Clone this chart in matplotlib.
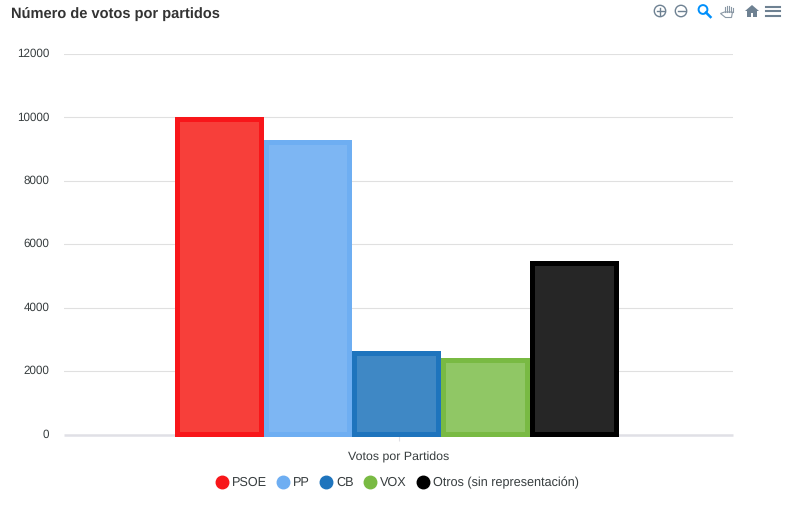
import matplotlib.pyplot as plt
from matplotlib.lines import Line2D
from matplotlib.patches import Circle, Polygon, Rectangle

plt.rcParams['font.family'] = ['Liberation Sans', 'DejaVu Sans']
plt.rcParams['text.hinting'] = 'no_hinting'

partidos = ["PSOE", "PP", "CB", "VOX", "Otros (sin representación)"]
votos = [10000, 9280, 2630, 2400, 5470]
bordes = ["#f8161a", "#6eaef2", "#1e74bd", "#79ba43", "#000000"]
rellenos = ["#f73f3a", "#7db6f3", "#3f88c5", "#90c765", "#262626"]
y_ticks = [0, 2000, 4000, 6000, 8000, 10000, 12000]

W, H = 800, 509
fig = plt.figure(figsize=(W / 100, H / 100), dpi=100)
ax = fig.add_axes([64 / W, (H - 434.5) / H, 669 / W, 380.5 / H])

# one category, five bars side by side, group sits a bit left of the tick
ancho = 88.8 / 669
centro = 0.5 - 1.7 / 669
for i in range(len(votos)):
    x = centro + (i - 2) * ancho
    # the 2px below zero is how the border hangs over the axis
    barra = ax.bar(x, votos[i] + 70, ancho, bottom=-70, color=rellenos[i],
                   edgecolor=bordes[i], linewidth=7.2, zorder=3)[0]
    barra.set_clip_path(barra)

ax.set_xlim(0, 1)
ax.set_ylim(0, 12000)
ax.set_yticks(y_ticks)
ax.set_xticks([0.5])
ax.set_xticklabels([""])
ax.grid(axis="y", color="#e0e0e0", linewidth=0.8)
ax.set_axisbelow(True)
for lado in ["top", "left", "right"]:
    ax.spines[lado].set_visible(False)
ax.spines["bottom"].set_color("#e0e0e6")
ax.spines["bottom"].set_linewidth(1.8)
ax.spines["bottom"].set_capstyle("butt")
ax.tick_params(axis="y", length=0, pad=10.5, labelsize=8.4, labelcolor="#373d3f")
ax.tick_params(axis="x", length=4, width=0.8, color="#e0e0e6")
for t in ax.get_yticklabels():
    t.set_verticalalignment("center")
ax.set_xlabel("Votos por Partidos", fontsize=8.9, color="#373d3f", labelpad=5)

handles = []
for i in range(len(partidos)):
    handles.append(Line2D([], [], linestyle="none", marker="o", markersize=9,
                          color=bordes[i], label=partidos[i]))
leg = fig.legend(handles=handles, loc="center", bbox_to_anchor=(396 / W, (H - 482.5) / H),
                 ncol=5, frameon=False, fontsize=9.1, columnspacing=0.58,
                 handletextpad=0.1, handlelength=1.4, borderpad=0)
for t in leg.get_texts():
    t.set_color("#373d3f")

fig.text(11 / W, (H - 14) / H, "Número de votos por partidos", fontsize=10.5,
         fontweight="bold", color="#333333", va="center", ha="left")

# toolbar icons, in pixel coordinates
iconos = fig.add_axes([0, 0, 1, 1], facecolor="none")
iconos.set_xlim(0, W)
iconos.set_ylim(H, 0)
iconos.axis("off")
gris = "#6e8192"
iconos.add_patch(Circle((660, 11), 5.7, fill=False, ec=gris, lw=1))
iconos.plot([656.5, 663.5], [11, 11], color=gris, lw=1)
iconos.plot([660, 660], [7.5, 14.5], color=gris, lw=1)
iconos.add_patch(Circle((681, 11), 5.7, fill=False, ec=gris, lw=1))
iconos.plot([677.5, 684.5], [11, 11], color=gris, lw=1)
iconos.add_patch(Circle((703, 9.5), 4.4, fill=False, ec="#008ffb", lw=1.4))
iconos.plot([706, 710.5], [12.5, 17], color="#008ffb", lw=1.8)
for x, y0 in [(724.5, 7), (726.5, 5.5), (728.5, 5.5), (730.5, 6.5), (732.5, 8)]:
    iconos.plot([x, x], [y0, 12], color="#8a98a5", lw=0.8)
iconos.add_patch(Polygon([[724.5, 12], [732.5, 12], [731.5, 17.5], [725.5, 17.5], [720.5, 13.5]],
                         closed=True, fill=False, ec="#8a98a5", lw=0.8))
iconos.add_patch(Polygon([[745, 11], [752, 5], [759, 11]], closed=True, color=gris, lw=0))
iconos.add_patch(Rectangle((747, 11), 10, 6, color=gris, lw=0))
iconos.add_patch(Rectangle((751, 13), 2, 4, color="white", lw=0))
for y in [6.5, 11, 15.5]:
    iconos.plot([766, 779.5], [y, y], color=gris, lw=1.5)

fig.savefig("out.png", dpi=100)
